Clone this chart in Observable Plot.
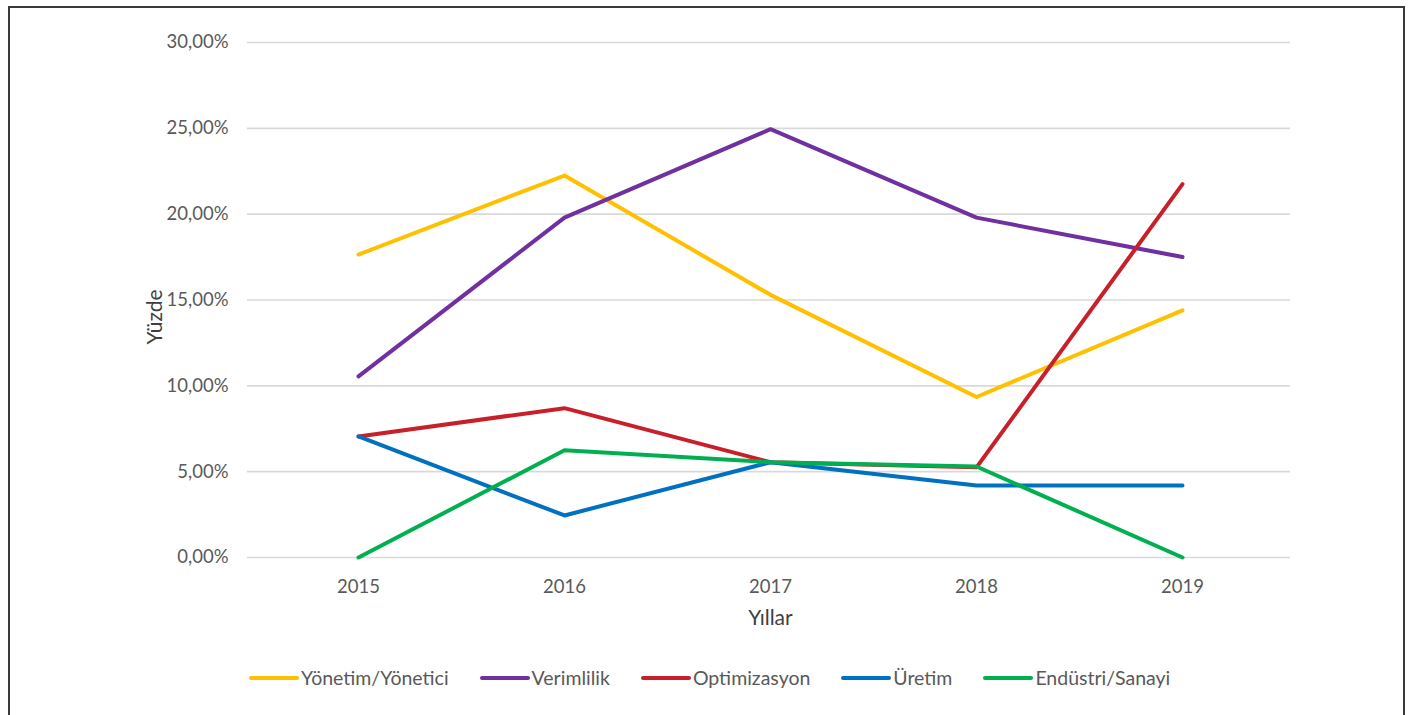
<!DOCTYPE html>
<html>
<head>
<meta charset="utf-8">
<script src="https://cdn.jsdelivr.net/npm/d3@7"></script>
<script src="https://cdn.jsdelivr.net/npm/@observablehq/plot@0.6"></script>
<style>
  html, body { margin: 0; padding: 0; background: #fff; width: 1410px; height: 715px; overflow: hidden; }
  #frame { position: absolute; left: 8px; top: 6px; width: 1397px; height: 740px; border: 2px solid #3a3a3a; box-sizing: border-box; }
  #chart { position: absolute; left: 0; top: 0; }
  #legend { position: absolute; left: 249px; top: 666px; display: flex; gap: 31px; font-family: Lato, "Open Sans", sans-serif; font-size: 19.5px; color: #595959; }
  .item { display: flex; align-items: center; }
  .swatch { width: 50px; height: 4px; border-radius: 2px; margin-right: 2px; }
</style>
</head>
<body>
<div id="frame"></div>
<div id="chart"></div>
<div id="legend"></div>
<script>
const years = ["2015", "2016", "2017", "2018", "2019"];
const seriesNames = ["Yönetim/Yönetici", "Verimlilik", "Optimizasyon", "Üretim", "Endüstri/Sanayi"];
const seriesColors = ["#FFC000", "#7030A0", "#C8202A", "#0070C0", "#00B050"];
const yonetim = [17.65, 22.25, 15.3, 9.35, 14.4];
const verimlilik = [10.55, 19.8, 24.95, 19.8, 17.5];
const optimizasyon = [7.05, 8.7, 5.55, 5.25, 21.75];
const uretim = [7.05, 2.45, 5.55, 4.2, 4.2];
const endustri = [0, 6.25, 5.55, 5.3, 0];
const yTicks = [0, 5, 10, 15, 20, 25, 30];
const yTitle = "Yüzde";
const xTitle = "Yıllar";

const allSeries = [yonetim, verimlilik, optimizasyon, uretim, endustri];
const data = [];
allSeries.forEach((vals, si) => {
  vals.forEach((v, i) => data.push({ series: seriesNames[si], year: years[i], value: v }));
});

const fmt = d => d.toFixed(2).replace(".", ",") + "%";

const chart = Plot.plot({
  width: 1410,
  height: 650,
  marginLeft: 247,
  marginRight: 120,
  marginTop: 42,
  marginBottom: 93,
  style: { fontFamily: "Lato, 'Open Sans', sans-serif", fontSize: "18.5px", color: "#595959", background: "transparent" },
  x: { type: "point", domain: years, range: [356, 1183], padding: 0 },
  y: { domain: [0, 30] },
  color: { domain: seriesNames, range: seriesColors },
  marks: [
    Plot.ruleY(yTicks, { stroke: "#d9d9d9", strokeWidth: 1.6 }),
    Plot.axisY({ ticks: yTicks, tickFormat: fmt, tickSize: 0, tickPadding: 19, label: null, fontSize: 18.5 }),
    Plot.axisX({ tickSize: 0, tickPadding: 22, label: null, fontSize: 18.5 }),
    Plot.text([yTitle], { frameAnchor: "left", textAnchor: "middle", dx: -92, dy: 17, rotate: -90, text: d => d, fontSize: 21, fill: "#3f3f3f" }),
    Plot.text([xTitle], { dy: 61, text: d => d, fontSize: 21, fill: "#3f3f3f", x: () => "2017", y: () => 0 }),
    Plot.line(data, { x: "year", y: "value", z: "series", stroke: "series", strokeWidth: 4, strokeLinejoin: "round", strokeLinecap: "round" })
  ]
});
document.getElementById("chart").appendChild(chart);

const legend = document.getElementById("legend");
seriesNames.forEach((name, i) => {
  const item = document.createElement("div");
  item.className = "item";
  const sw = document.createElement("div");
  sw.className = "swatch";
  sw.style.background = seriesColors[i];
  const label = document.createElement("span");
  label.textContent = name;
  item.appendChild(sw);
  item.appendChild(label);
  legend.appendChild(item);
});
</script>
</body>
</html>
